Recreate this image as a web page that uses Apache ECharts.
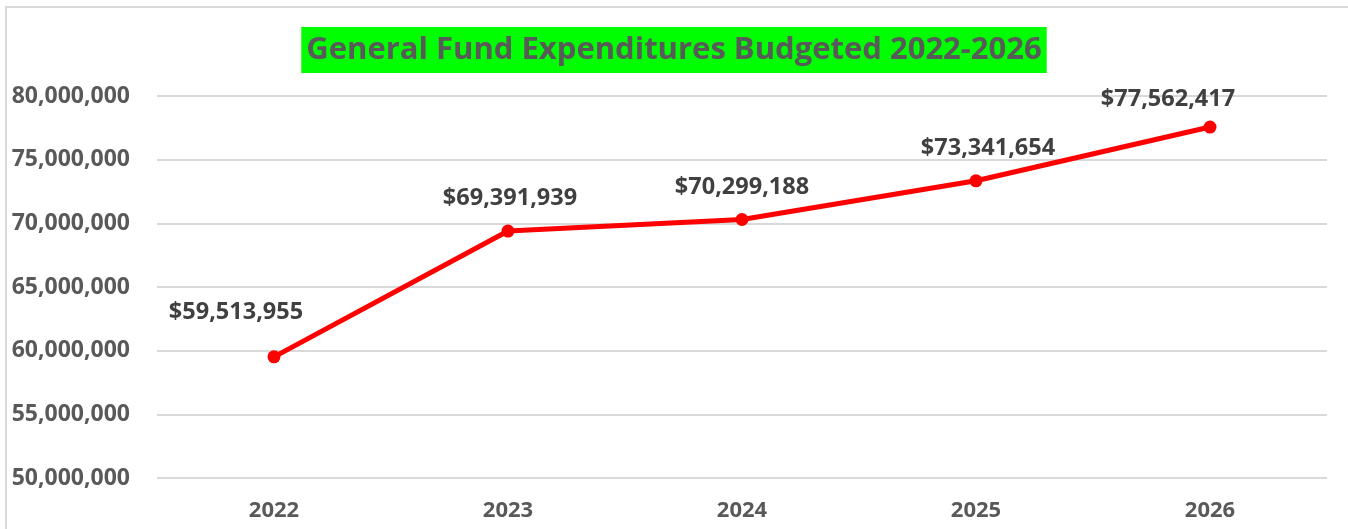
<!DOCTYPE html>
<html>
<head>
<meta charset="utf-8">
<script src="https://cdn.jsdelivr.net/npm/echarts@6/dist/echarts.min.js"></script>
<style>
  html, body { margin: 0; padding: 0; background: #fff; }
  #chart { width: 1348px; height: 529px; }
</style>
</head>
<body>
<div id="chart"></div>
<script>
// General fund budget by year
const years = ['2022', '2023', '2024', '2025', '2026'];
const expenditures = [59513955, 69391939, 70299188, 73341654, 77562417];
const yTicks = [50000000, 55000000, 60000000, 65000000, 70000000, 75000000, 80000000];

// Where each value label sits relative to its point
const labelOffsets = [[-38, -12], [2, 0], [0, 0], [12, 0], [-42, 5]];

const fmt = n => n.toLocaleString('en-US');

const chart = echarts.init(document.getElementById('chart'));
chart.setOption({
  animation: false,
  backgroundColor: '#fff',
  textStyle: { fontFamily: 'Open Sans' },
  title: {
    text: 'General Fund Expenditures Budgeted 2022-2026',
    left: 'center',
    top: 27,
    padding: [5, 5, 5, 5],
    backgroundColor: '#00ff00',
    textStyle: { color: '#595959', fontSize: 31, lineHeight: 36, fontWeight: 'bold', fontFamily: 'Open Sans' }
  },
  graphic: [{
    type: 'polyline',
    shape: { points: [[6, 529], [6, 7], [1348, 7]] },
    style: { stroke: '#d9d9d9', lineWidth: 2, fill: null },
    silent: true
  }],
  grid: { left: 157, right: 21, top: 96, bottom: 51 },
  xAxis: {
    type: 'category',
    data: years,
    axisLine: { show: false },
    axisTick: { show: false },
    axisLabel: { color: '#595959', fontSize: 22, fontWeight: 'bold', margin: 22 }
  },
  yAxis: {
    type: 'value',
    min: yTicks[0],
    max: yTicks[yTicks.length - 1],
    interval: 5000000,
    axisLine: { show: false },
    axisTick: { show: false },
    splitLine: { lineStyle: { color: '#d9d9d9', width: 2 } },
    axisLabel: {
      color: '#595959', fontSize: 23, fontWeight: 'bold', margin: 27,
      formatter: v => fmt(v)
    }
  },
  series: [{
    type: 'line',
    data: expenditures.map((v, i) => ({
      value: v,
      label: { offset: labelOffsets[i] }
    })),
    symbol: 'circle',
    symbolSize: 13,
    lineStyle: { color: '#ff0000', width: 5 },
    itemStyle: { color: '#ff0000' },
    label: {
      show: true,
      position: 'top',
      distance: 14,
      color: '#404040',
      fontSize: 23.5,
      fontWeight: 'bold',
      formatter: p => '$' + fmt(p.value)
    }
  }]
});
</script>
</body>
</html>
